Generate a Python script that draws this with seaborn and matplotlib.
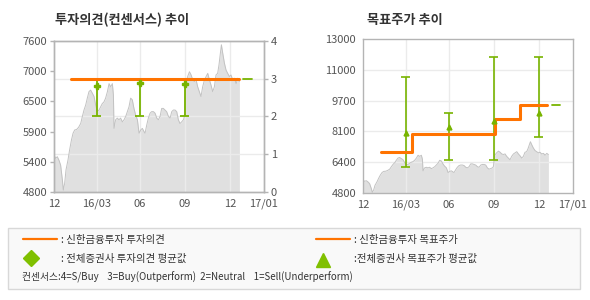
import matplotlib
matplotlib.use("Agg")
import matplotlib.pyplot as plt
import seaborn as sns
import numpy as np
import pandas as pd
from matplotlib.patches import Rectangle

sns.set_theme(style="white")
plt.rcParams['font.family'] = ['Noto Sans CJK KR', 'DejaVu Sans']

# ---- data (x in months from 2015-12) ----
price_x = [0.00, 0.11, 0.22, 0.33, 0.44, 0.56, 0.62, 0.71, 0.80, 0.93, 1.04, 1.16, 1.27,
           1.38, 1.51, 1.64, 1.78, 1.89, 2.00, 2.11, 2.22, 2.33, 2.44, 2.56, 2.67, 2.78,
           2.89, 3.00, 3.11, 3.22, 3.33, 3.44, 3.56, 3.67, 3.78, 3.89, 3.96, 4.00, 4.11,
           4.22, 4.33, 4.44, 4.56, 4.67, 4.78, 4.89, 5.00, 5.11, 5.22, 5.33, 5.44, 5.56,
           5.67, 5.78, 5.89, 6.00,
           6.07, 6.18, 6.29, 6.40, 6.51, 6.63, 6.74, 6.85, 6.96, 7.07, 7.18, 7.29, 7.40,
           7.51, 7.63, 7.74, 7.85, 7.96, 8.07, 8.18, 8.29, 8.40, 8.51, 8.63, 8.69, 8.78,
           8.91, 9.03, 9.14, 9.25, 9.36, 9.47, 9.58, 9.69, 9.80, 9.91, 10.03, 10.14, 10.25,
           10.36, 10.47, 10.58, 10.69, 10.80, 10.91, 11.00, 11.09, 11.16, 11.25, 11.36,
           11.47, 11.58, 11.69, 11.80, 11.91, 12.03, 12.14, 12.25, 12.36]
price_v = [5486, 5425, 5455, 5390, 5300, 5020, 4835, 4960, 5210, 5390, 5580, 5760, 5890,
           5950, 5960, 6000, 6070, 6200, 6320, 6410, 6540, 6660, 6690, 6630, 6570, 6410,
           6290, 6320, 6380, 6440, 6470, 6540, 6660, 6810, 6750, 6810, 6600, 5980, 6140,
           6170, 6140, 6170, 6100, 6140, 6200, 6290, 6380, 6540, 6510, 6350, 6230, 6140,
           5890, 5950, 5980, 5920,
           5890, 6040, 6170, 6260, 6290, 6290, 6260, 6170, 6140, 6200, 6350, 6350, 6320,
           6290, 6200, 6170, 6290, 6320, 6320, 6290, 6140, 6070, 6100, 6140, 6200, 6810,
           6940, 7030, 6970, 6880, 6850, 6880, 6750, 6660, 6570, 6750, 6880, 6940, 7000,
           6880, 6780, 6660, 6750, 6970, 7000, 7160, 7370, 7530, 7370, 7190,
           7060, 7000, 6940, 6970, 6880, 6910, 6810, 6910, 6850]

tick_pos = [0, 2.84, 5.73, 8.73, 11.73, 14]
tick_lab = ["12", "16/03", "06", "09", "12", "17/01"]

# opinion (left chart)
op_x = [1.16, 12.31]
op_v = [3, 3]
op_now_x = [12.6, 13.2]
op_now_v = [3, 3]
cons_x = [2.84, 5.73, 8.73]
cons_lo = [2, 2, 2]
cons_hi = [3, 3, 3]
cons_avg = [2.82, 2.90, 2.85]
left_labels = ["4800", "5400", "5900", "6500", "7000", "7600"]

# target price (right chart)
tp_x = [1.18, 3.29, 8.78, 10.47, 12.29]
tp_v = [7000, 7950, 8750, 9500, 9500]
tp_now_x = [12.6, 13.16]
tp_now_v = [9500, 9500]
all_x = [2.84, 5.73, 8.73, 11.73]
all_lo = [6210, 6580, 6580, 7780]
all_hi = [11000, 9040, 12040, 12040]
all_avg = [8010, 8330, 8650, 9080]
right_labels = ["4800", "6400", "8100", "9700", "11000", "13000"]

ORANGE = "#ff7300"
GREEN = "#78b400"
GRID = "#ebebeb"
SPINE = "#b4b4b4"
TXT = "#555555"

fig = plt.figure(figsize=(5.9, 3.0), dpi=100)
fig.patch.set_facecolor("white")

price_df = pd.DataFrame({"m": price_x, "p": price_v})


def style_axes(ax):
    for s in ax.spines.values():
        s.set_color(SPINE)
        s.set_linewidth(1.0)
    ax.tick_params(axis="both", colors=SPINE, labelcolor=TXT, labelsize=8,
                   length=3, width=1, direction="out", pad=2)
    ax.set_xlim(0, 14)
    ax.set_xticks(tick_pos)
    ax.set_xticklabels(tick_lab)
    ax.set_xlabel("")
    ax.set_ylabel("")
    ax.grid(False)


# ---------------- left chart ----------------
axL = fig.add_axes([54 / 590, 1 - 192 / 300, 210 / 590, 151 / 300])
axL.set_ylim(4800, 7600)
axL.fill_between(price_df["m"], price_df["p"], 4800, color="#e0e0e0", lw=0, zorder=1)
sns.lineplot(data=price_df, x="m", y="p", ax=axL, color="#c2c2c2", lw=0.7, zorder=2)
style_axes(axL)
axL.set_yticks(np.linspace(4800, 7600, 6))
axL.set_yticklabels(left_labels)
axL.set_ylim(4800, 7600)
for xv in tick_pos[1:5]:
    axL.axvline(xv, color=GRID, lw=1, zorder=1.5)
for yv in [1, 2, 3]:
    axL.axhline(4800 + yv * 700, color=GRID, lw=1, zorder=1.5)

axR2 = axL.twinx()
axR2.set_zorder(2)
axR2.patch.set_visible(False)
op_df = pd.DataFrame({"m": op_x, "v": op_v})
sns.lineplot(data=op_df, x="m", y="v", ax=axR2, color=ORANGE, lw=2.2, zorder=5)
axR2.plot(op_now_x, op_now_v, color=GREEN, lw=1.3, zorder=5)
for xv, lo, hi, av in zip(cons_x, cons_lo, cons_hi, cons_avg):
    axR2.vlines(xv, lo, hi, color=GREEN, lw=1.3, zorder=4)
    axR2.hlines([lo], xv - 0.3, xv + 0.3, color=GREEN, lw=1.3, zorder=4)
    axR2.plot([xv], [av], marker="P", ms=4, color=GREEN, zorder=6)
style_axes(axR2)
axR2.set_yticks([0, 1, 2, 3, 4])
axR2.set_yticklabels(["0", "1", "2", "3", "4"])
axR2.set_ylim(0, 4)

fig.text(55 / 590, 1 - 20 / 300, "투자의견(컨센서스) 추이", fontsize=9.5,
         fontweight="bold", color="#333333", va="center", ha="left")

# ---------------- right chart ----------------
axT = fig.add_axes([363 / 590, 1 - 193 / 300, 210 / 590, 154 / 300])
gy = np.linspace(4800, 13000, 6)
axT.fill_between(price_df["m"], price_df["p"], 4800, color="#e0e0e0", lw=0, zorder=1)
for yv in gy[1:5]:
    axT.axhline(yv, color=GRID, lw=1, zorder=1.5)
for xv in tick_pos[1:5]:
    axT.axvline(xv, color=GRID, lw=1, zorder=1.5)
sns.lineplot(data=price_df, x="m", y="p", ax=axT, color="#c2c2c2", lw=0.7, zorder=2)
tp_df = pd.DataFrame({"m": tp_x, "v": tp_v})
sns.lineplot(data=tp_df, x="m", y="v", ax=axT, color=ORANGE, lw=2.2,
             drawstyle="steps-post", zorder=5)
axT.plot(tp_now_x, tp_now_v, color=GREEN, lw=1.3, zorder=5)
for xv, lo, hi, av in zip(all_x, all_lo, all_hi, all_avg):
    axT.vlines(xv, lo, hi, color=GREEN, lw=1.2, zorder=4)
    axT.hlines([lo, hi], xv - 0.3, xv + 0.3, color=GREEN, lw=1.2, zorder=4)
    axT.plot([xv], [av], marker="^", ms=3.5, color=GREEN, zorder=6)
style_axes(axT)
axT.set_yticks(gy)
axT.set_yticklabels(right_labels)
axT.set_ylim(4800, 13000)

fig.text(367 / 590, 1 - 20 / 300, "목표주가 추이", fontsize=9.5,
         fontweight="bold", color="#333333", va="center", ha="left")

# ---------------- legend box ----------------
box = Rectangle((8 / 590, 1 - 289 / 300), 572 / 590, 61 / 300, transform=fig.transFigure,
                facecolor="#f9f9f9", edgecolor="#d8d8d8", lw=1)
fig.patches.append(box)


def fy(py):
    return 1 - py / 300


def fx(px):
    return px / 590


fs = 7.5
fig.add_artist(plt.Line2D([fx(23), fx(57)], [fy(239), fy(239)], color=ORANGE, lw=1.6))
fig.text(fx(61), fy(240), ": 신한금융투자 투자의견", fontsize=fs, color="#333333", va="center")
fig.add_artist(plt.Line2D([fx(316), fx(350)], [fy(239), fy(239)], color=ORANGE, lw=1.6))
fig.text(fx(354), fy(240), ": 신한금융투자 목표주가", fontsize=fs, color="#333333", va="center")
fig.add_artist(plt.Line2D([fx(31)], [fy(258)], marker="D", ms=8.5, color="#80c000", lw=0))
fig.text(fx(61), fy(259), ": 전체증권사 투자의견 평균값", fontsize=fs, color="#333333", va="center")
fig.add_artist(plt.Line2D([fx(323)], [fy(260)], marker="^", ms=9.5, color="#80c000", lw=0))
fig.text(fx(354), fy(259), ":전체증권사 목표주가 평균값", fontsize=fs, color="#333333", va="center")
fig.text(fx(22), fy(277), "컨센서스:4=S/Buy    3=Buy(Outperform)  2=Neutral    1=Sell(Underperform)",
         fontsize=7, color="#333333", va="center")

fig.savefig("out.png", dpi=100, facecolor="white")
